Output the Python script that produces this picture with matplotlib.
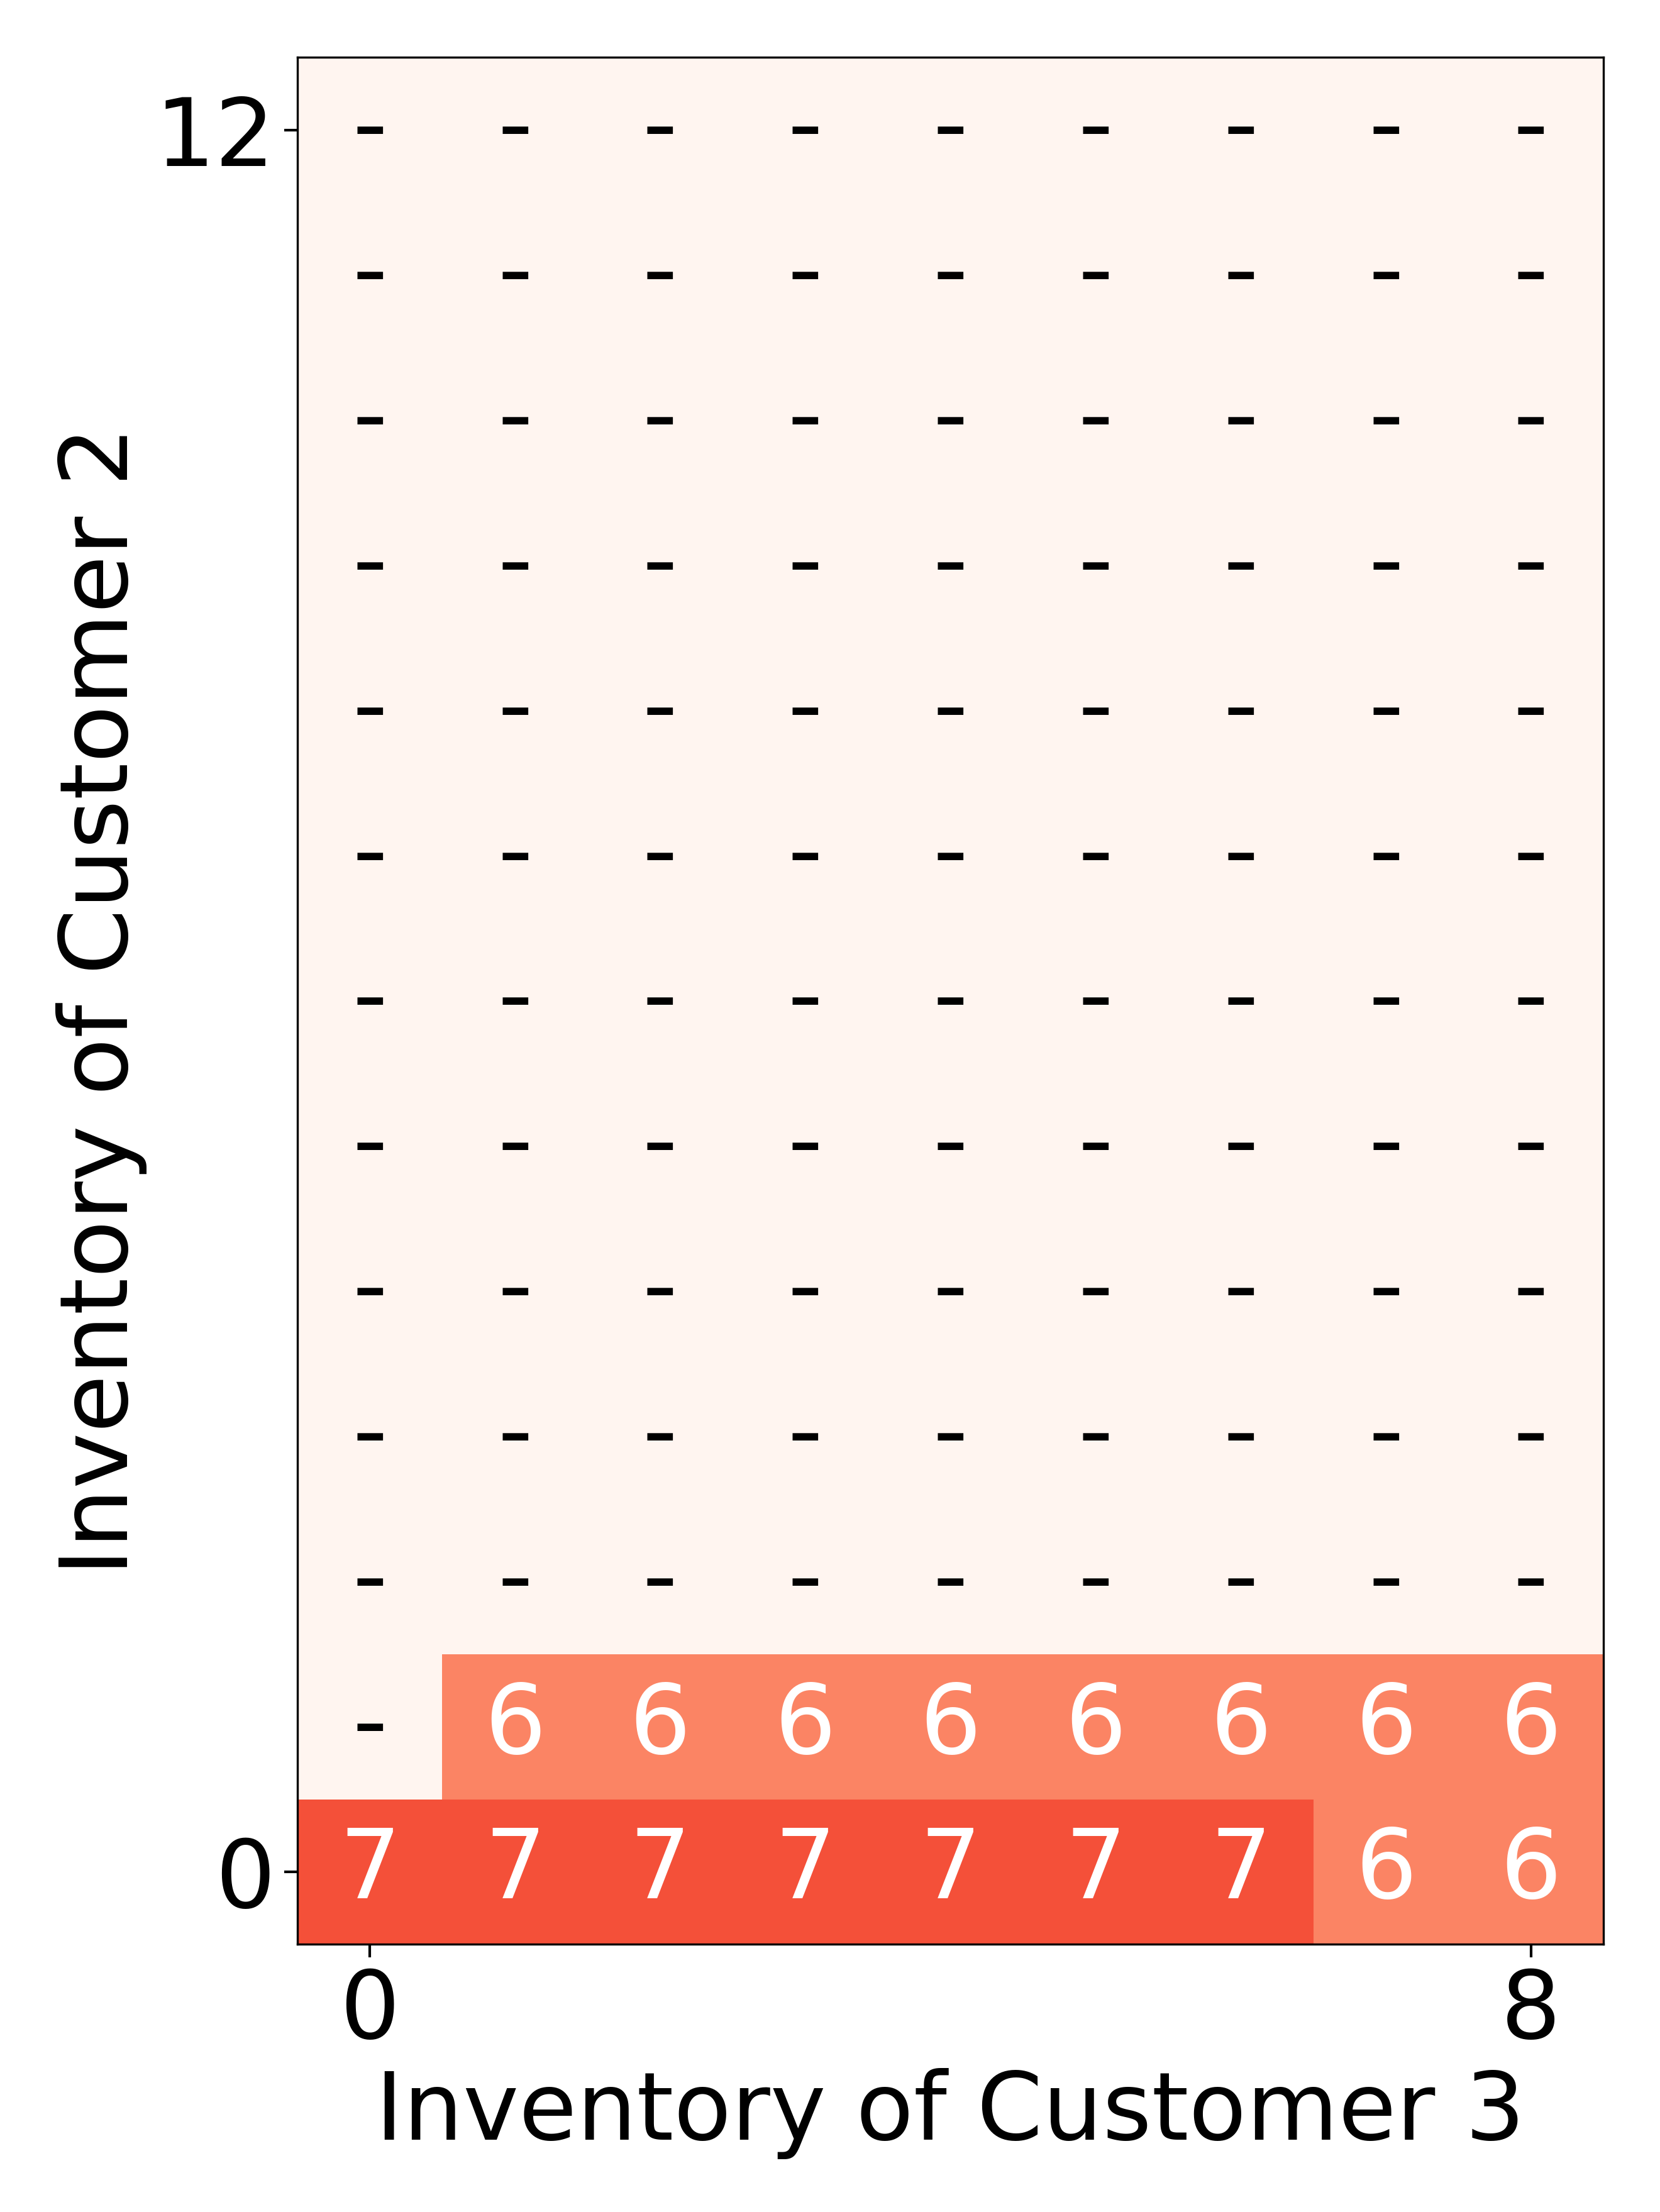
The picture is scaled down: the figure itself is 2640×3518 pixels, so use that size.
import numpy as np
import matplotlib
matplotlib.use("Agg")
from matplotlib import pyplot as plt

# inventory grid: rows = customer 2 (0..12), cols = customer 3 (0..8)
inv2 = list(range(13))
inv3 = list(range(9))
row0 = [7, 7, 7, 7, 7, 7, 7, 6, 6]
row1 = [None, 6, 6, 6, 6, 6, 6, 6, 6]
rest = [None] * 9  # rows 2..12 have no action

grid = [row0, row1] + [rest] * 11

vals = np.array([[np.nan if v is None else v for v in r] for r in grid], dtype=float)
shown = np.where(np.isnan(vals), 0, vals)

fig = plt.figure(figsize=(8.8, 11.7267), dpi=300)
ax = fig.add_axes([0.179, 0.121, 0.787, 0.853])
ax.imshow(shown, cmap="Reds", vmin=3.2, vmax=9.9, origin="lower", aspect="equal")

for i in inv2:
    for j in inv3:
        v = grid[i][j]
        if v is None:
            ax.text(j, i, "-", ha="center", va="center", color="black", fontsize=37)
        else:
            ax.text(j, i, str(v), ha="center", va="center", color="white", fontsize=37)

ax.set_xticks([inv3[0], inv3[-1]])
ax.set_yticks([inv2[0], inv2[-1]])
ax.tick_params(labelsize=36, length=5, width=1)
ax.set_xlabel("Inventory of Customer 3", fontsize=36, labelpad=4)
ax.set_ylabel("Inventory of Customer 2", fontsize=36, labelpad=3)

fig.savefig("out.png", dpi=300)
